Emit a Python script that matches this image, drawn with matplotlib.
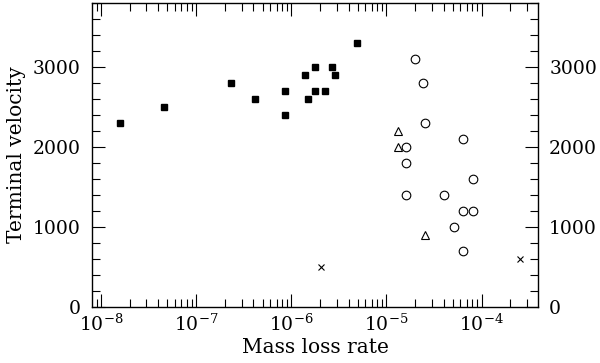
"""Terminal velocity versus mass loss rate."""

import matplotlib
matplotlib.use("Agg")
import matplotlib.pyplot as plt
from matplotlib.ticker import LogLocator, MultipleLocator, NullFormatter

plt.rcParams["font.family"] = ["DejaVu Serif"]
plt.rcParams["mathtext.fontset"] = "dejavuserif"

# filled squares
sq_mdot = [1.58e-8, 4.6e-8, 2.33e-7, 4.2e-7, 8.6e-7, 8.6e-7, 1.4e-6, 1.5e-6,
           1.79e-6, 1.79e-6, 2.28e-6, 2.7e-6, 2.9e-6, 4.95e-6]
sq_vinf = [2300, 2500, 2800, 2600, 2700, 2400, 2900, 2600,
           3000, 2700, 2700, 3000, 2900, 3300]

# open circles
ci_mdot = [2.02e-5, 2.43e-5, 2.53e-5, 6.35e-5, 1.62e-5, 1.62e-5, 8.1e-5,
           1.62e-5, 4.05e-5, 6.35e-5, 8.1e-5, 5.07e-5, 6.35e-5]
ci_vinf = [3100, 2800, 2300, 2100, 2000, 1800, 1600,
           1400, 1400, 1200, 1200, 1000, 700]

# open triangles
tr_mdot = [1.31e-5, 1.31e-5, 2.53e-5]
tr_vinf = [2200, 2000, 900]

# crosses
cr_mdot = [2.06e-6, 2.53e-4]
cr_vinf = [500, 600]

fig = plt.figure(figsize=(6.0, 3.63), dpi=100)
ax = fig.add_axes([0.1533, 0.1543, 0.7434, 0.8374])

ax.plot(sq_mdot, sq_vinf, ls="none", marker="s", ms=4.6, mfc="black", mec="black")
ax.plot(ci_mdot, ci_vinf, ls="none", marker="o", ms=6.2, mfc="none", mec="black", mew=0.8)
ax.plot(tr_mdot, tr_vinf, ls="none", marker="^", ms=6.0, mfc="none", mec="black", mew=0.8)
ax.plot(cr_mdot, cr_vinf, ls="none", marker="x", ms=4.5, mec="black", mew=0.8)

ax.set_xscale("log")
ax.set_xlim(8.04e-9, 3.92e-4)
ax.set_ylim(0, 3800)

ax.xaxis.set_major_locator(LogLocator(base=10, numticks=20))
ax.xaxis.set_minor_locator(LogLocator(base=10, subs=range(2, 10), numticks=20))
ax.xaxis.set_minor_formatter(NullFormatter())
ax.yaxis.set_major_locator(MultipleLocator(1000))
ax.yaxis.set_minor_locator(MultipleLocator(200))

ax.tick_params(which="both", direction="in", top=True, right=True,
               labelright=True, labelsize=13.5, width=0.8, color="black")
ax.tick_params(which="major", length=9.4)
ax.tick_params(which="minor", length=5.5)
ax.tick_params(axis="y", pad=8)
ax.tick_params(axis="x", pad=5)

for s in ax.spines.values():
    s.set_linewidth(1.0)

ax.set_xlabel("Mass loss rate", fontsize=14.5, labelpad=2)
ax.set_ylabel("Terminal velocity", fontsize=14.5, labelpad=5)

fig.savefig("out.png", dpi=100)
